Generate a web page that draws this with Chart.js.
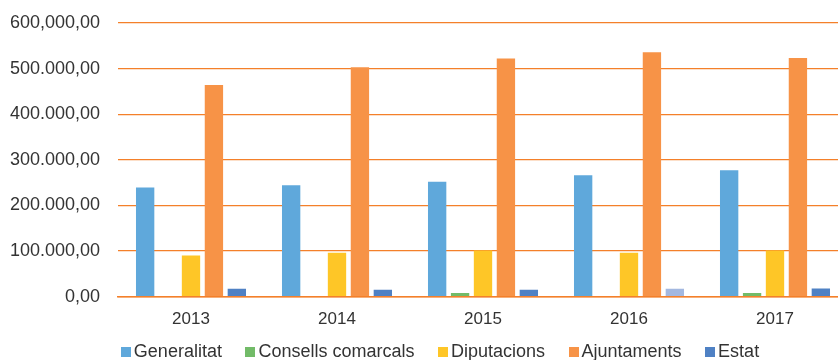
<!DOCTYPE html>
<html>
<head>
<meta charset="utf-8">
<script src="https://cdn.jsdelivr.net/npm/chart.js@4"></script>
<style>
  html, body { margin: 0; padding: 0; background: #fff; overflow: hidden; width: 838px; height: 360px; }
  #wrap { position: relative; width: 880px; height: 360px; }
  #legend { position: absolute; left: 0; top: 341px; width: 880px; display: flex; justify-content: center;
            font-family: "Liberation Sans", Arial, sans-serif; font-size: 18px; line-height: 20px; color: #333; gap: 23.5px; white-space: nowrap; }
  #legend .item { display: inline-block; }
  #legend .box { display: inline-block; width: 10px; height: 10px; margin-right: 3px; vertical-align: baseline; }
</style>
</head>
<body>
<div id="wrap">
  <canvas id="c" width="880" height="360"></canvas>
  <div id="legend"></div>
</div>
<script>
const categories = ["2013", "2014", "2015", "2016", "2017"];
const seriesNames = ["Generalitat", "Consells comarcals", "Diputacions", "Ajuntaments", "Estat"];
const generalitat = [239000, 244000, 252000, 266000, 277000];
const consellsComarcals = [0, 0, 8000, 0, 8000];
const diputacions = [90000, 96000, 101000, 96000, 101000];
const ajuntaments = [464000, 503000, 522000, 536000, 523000];
const estat = [17000, 15000, 15000, 17000, 17500];
const yTickLabels = ["0,00", "100.000,00", "200.000,00", "300.000,00", "400.000,00", "500.000,00", "600,000,00"];

const colors = ["#5fa8db", "#72bb68", "#fec627", "#f79347", "#4f81c4"];
const estatColors = ["#4f81c4", "#4f81c4", "#4f81c4", "#a3b8e0", "#4f81c4"];
const values = [generalitat, consellsComarcals, diputacions, ajuntaments, estat];

const datasets = seriesNames.map((name, i) => ({
  label: name,
  data: values[i],
  backgroundColor: i === 4 ? estatColors : colors[i],
  borderWidth: 0,
  categoryPercentage: 0.785,
  barPercentage: 0.8
}));

const fontFamily = '"Liberation Sans", Arial, sans-serif';
new Chart(document.getElementById('c'), {
  type: 'bar',
  data: { labels: categories, datasets },
  options: {
    responsive: false,
    animation: false,
    devicePixelRatio: 1,
    layout: { padding: { left: 10, right: 32, top: 23, bottom: 17 } },
    plugins: { legend: { display: false }, tooltip: { enabled: false } },
    scales: {
      x: {
        grid: { display: false, drawTicks: false },
        border: { display: true, color: '#f4802a', width: 1.5 },
        ticks: { color: '#333', font: { family: fontFamily, size: 17 }, padding: 13 }
      },
      y: {
        min: 0, max: 600000,
        border: { display: false },
        grid: { color: '#f4802a', lineWidth: 1.3, drawTicks: false },
        afterFit: (scale) => { scale.width = 108; scale.paddingTop = 0; scale.paddingBottom = 0; },
        ticks: {
          stepSize: 100000,
          padding: 18,
          color: '#333',
          font: { family: fontFamily, size: 18 },
          callback: (v) => yTickLabels[Math.round(v / 100000)]
        }
      }
    }
  }
});

const legend = document.getElementById('legend');
seriesNames.forEach((name, i) => {
  const item = document.createElement('span');
  item.className = 'item';
  const box = document.createElement('span');
  box.className = 'box';
  box.style.background = colors[i];
  item.appendChild(box);
  item.appendChild(document.createTextNode(name));
  legend.appendChild(item);
});
</script>
</body>
</html>
